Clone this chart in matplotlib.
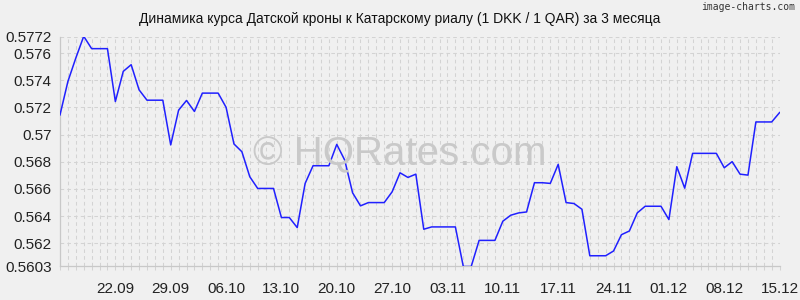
import matplotlib
matplotlib.use('Agg')
import matplotlib.pyplot as plt
import matplotlib.dates as mdates
import pandas as pd

# DKK/QAR daily rate, 15.09 - 15.12
start_date = '2023-09-15'
rate = [
    0.57145, 0.57391, 0.57563, 0.57723, 0.57632, 0.57632, 0.57632, 0.57243,
    0.57465, 0.57514, 0.57329, 0.57253, 0.57253, 0.57253, 0.56924, 0.57180,
    0.57251, 0.57170, 0.57305, 0.57305, 0.57305, 0.57201, 0.56931, 0.56874,
    0.56690, 0.56604, 0.56604, 0.56604, 0.56390, 0.56390, 0.56316, 0.56641,
    0.56771, 0.56771, 0.56771, 0.56928, 0.56813, 0.56572, 0.56476, 0.56500,
    0.56500, 0.56500, 0.56579, 0.56719, 0.56685, 0.56709, 0.56304, 0.56321,
    0.56321, 0.56321, 0.56321, 0.56030, 0.56030, 0.56222, 0.56222, 0.56222,
    0.56363, 0.56407, 0.56424, 0.56431, 0.56646, 0.56646, 0.56641, 0.56781,
    0.56500, 0.56493, 0.56451, 0.56109, 0.56109, 0.56109, 0.56144, 0.56264,
    0.56291, 0.56424, 0.56473, 0.56473, 0.56473, 0.56375, 0.56764, 0.56606,
    0.56862, 0.56862, 0.56862, 0.56862, 0.56756, 0.56801, 0.56709, 0.56702,
    0.57093, 0.57093, 0.57093, 0.57162,
]
y_ticks = [0.5603, 0.562, 0.564, 0.566, 0.568, 0.57, 0.572, 0.574, 0.576, 0.5772]
y_labels = ['0.5603', '0.562', '0.564', '0.566', '0.568', '0.57', '0.572', '0.574', '0.576', '0.5772']

title = 'Динамика курса Датской кроны к Катарскому риалу (1 DKK / 1 QAR) за 3 месяца'

bg = '#f0f0f0'
grid_col = '#d3d3d3'
plt.rcParams['font.family'] = ['Liberation Sans', 'DejaVu Sans']

dates = pd.date_range(start_date, periods=len(rate), freq='D')

fig = plt.figure(figsize=(8, 3), dpi=100, facecolor=bg)
ax = fig.add_axes([0.075, 0.1117, 0.8995, 0.766])
ax.set_facecolor(bg)

ax.plot(dates, rate, color='#2020ff', linewidth=1.1, zorder=3)

ax.set_xlim(dates[0], dates[-1])
ax.set_ylim(y_ticks[0], y_ticks[-1])
ax.set_yticks(y_ticks)
ax.set_yticklabels(y_labels)

ax.set_xticks(dates[7::7])
ax.xaxis.set_major_formatter(mdates.DateFormatter('%d.%m'))
ax.xaxis.set_minor_locator(mdates.DayLocator())

ax.grid(True, which='both', axis='x', color=grid_col, linestyle=(0, (3.5, 3)), linewidth=0.75, zorder=0)
ax.grid(True, which='major', axis='y', color=grid_col, linestyle=(0, (3.5, 3)), linewidth=0.75, zorder=0)
ax.tick_params(axis='both', which='both', length=0, labelsize=11, colors='#222222', pad=6)
ax.tick_params(axis='x', which='both', length=3, width=0.75, color=grid_col, pad=8)

for side in ['top', 'right']:
    ax.spines[side].set_visible(False)
for side in ['left', 'bottom']:
    ax.spines[side].set_color('#c8c8c8')
    ax.spines[side].set_linewidth(0.9)

# watermark
fig.text(0.5, 0.485, '© HQRates.com', ha='center', va='center',
         fontsize=29, color='#c9c9c9', zorder=2)

fig.text(0.5, 0.935, title, ha='center', va='center', fontsize=10, color='#111111')
fig.text(0.994, 0.975, 'image-charts.com', ha='right', va='center', fontsize=7,
         color='#333333', family='DejaVu Sans Mono')

fig.savefig('out.png', dpi=100, facecolor=bg)
